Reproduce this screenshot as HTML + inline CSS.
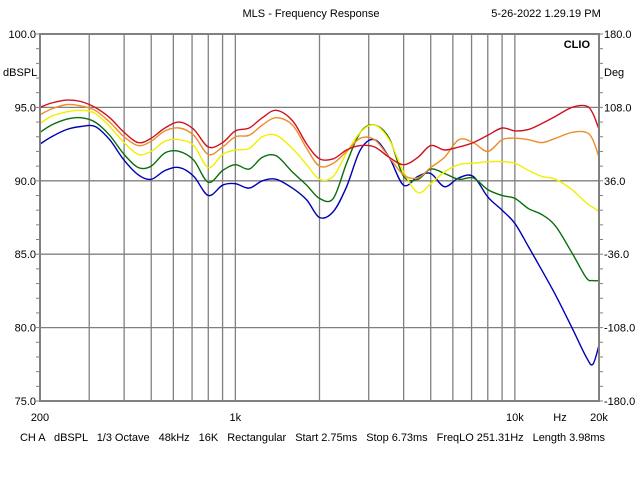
<!DOCTYPE html>
<html><head><meta charset="utf-8">
<style>
html,body{margin:0;padding:0;background:#fff;}
svg{display:block;font-family:"Liberation Sans",Arial,sans-serif;}
</style></head>
<body>
<svg id="chart" width="640" height="480" viewBox="0 0 640 480" xmlns="http://www.w3.org/2000/svg">
<rect x="0" y="0" width="640" height="480" fill="#fff"/>
<text x="311" y="17" font-size="11" text-anchor="middle" fill="#000">MLS - Frequency Response</text>
<text x="546" y="17" font-size="11" text-anchor="middle" fill="#000">5-26-2022 1.29.19 PM</text>
<g id="grid"></g>
<g id="axes"></g>
<g id="series"></g>
<rect x="40" y="34" width="559" height="367" fill="none" stroke="#808080" stroke-width="2"/>
<text x="590" y="48" font-size="11" font-weight="bold" text-anchor="end" fill="#000">CLIO</text>
<text x="3" y="76" font-size="11" fill="#000">dBSPL</text>
<text x="604" y="76" font-size="11" fill="#000">Deg</text>
<text x="560" y="421" font-size="11" text-anchor="middle" fill="#000">Hz</text>
<text x="20" y="441" font-size="11" fill="#000" textLength="585" lengthAdjust="spacing" xml:space="preserve">CH A   dBSPL   1/3 Octave   48kHz   16K   Rectangular   Start 2.75ms   Stop 6.73ms   FreqLO 251.31Hz   Length 3.98ms</text>
</svg>
<script>
const freqs = [200,220,250,280,315,355,400,450,500,560,630,710,800,900,1000,1120,1250,1400,1600,1800,2000,2240,2500,2800,3150,3550,4000,4500,5000,5600,6300,7100,8000,9000,10000,11200,12500,14000,16000,18000,19000,20000];
const redDb =    [95.0,95.3,95.5,95.4,95.0,94.3,93.3,92.6,92.9,93.6,94.0,93.5,92.3,92.6,93.4,93.6,94.3,94.8,94.1,92.5,91.5,91.5,92.1,92.4,92.3,91.6,91.1,91.6,92.4,92.1,92.3,92.6,93.1,93.6,93.4,93.5,93.9,94.4,95.0,95.1,94.6,93.5];
const orangeDb = [94.5,94.9,95.2,95.1,94.8,94.0,93.0,92.4,92.7,93.4,93.6,93.1,91.8,92.3,93.0,93.1,93.8,94.3,93.8,92.2,91.0,91.2,92.0,92.9,92.8,91.6,90.4,90.2,90.9,91.6,92.8,92.6,92.0,92.8,92.9,92.8,92.6,92.9,93.3,93.3,92.8,91.6];
const yellowDb = [93.9,94.4,94.7,94.8,94.6,93.7,92.6,91.8,92.0,92.7,92.8,92.4,90.9,91.8,92.1,92.2,93.0,93.1,92.2,91.1,90.1,90.3,91.9,93.3,93.8,92.8,90.6,89.2,89.8,90.6,91.1,91.2,91.3,91.3,91.2,90.7,90.3,90.1,89.4,88.5,88.2,87.9];
const greenDb =  [93.3,93.8,94.2,94.3,94.0,93.1,91.8,90.9,91.0,91.9,92.0,91.4,89.9,90.7,91.1,90.8,91.6,91.7,90.6,89.7,88.8,88.8,91.2,93.3,93.8,92.9,90.3,90.1,90.8,90.5,90.1,90.2,89.4,89.0,88.8,88.1,87.7,86.9,85.1,83.4,83.2,83.2];
const blueDb =   [92.5,93.0,93.5,93.7,93.7,92.8,91.4,90.4,90.1,90.7,90.9,90.3,89.0,89.7,89.8,89.5,90.0,90.1,89.5,88.7,87.5,87.9,89.6,92.1,92.8,91.6,89.7,90.3,90.5,89.6,90.2,90.3,88.9,88.0,87.1,85.5,83.9,82.2,80.0,78.0,77.5,78.8];
const leftTicks = ["100.0","95.0","90.0","85.0","80.0","75.0"];
const leftTickValues = [100,95,90,85,80,75];
const rightTicks = ["180.0","108.0","36.0","-36.0","-108.0","-180.0"];
const xLabelFreqs = [200,1000,10000,20000];
const xLabels = ["200","1k","10k","20k"];
const gridFreqs = [300,400,500,600,700,800,900,1000,2000,3000,4000,5000,6000,7000,8000,9000,10000];

const NS = "http://www.w3.org/2000/svg";
const L=40, R=599, T=34, B=401;
function xScale(f){ return L + (Math.log10(f/200)/2)*(R-L); }
function yScale(db){ return T + (100-db)/25*(B-T); }
function mk(tag, attrs, parent){ const e=document.createElementNS(NS,tag); for(const k in attrs) e.setAttribute(k,attrs[k]); parent.appendChild(e); return e; }

const grid=document.getElementById('grid');
gridFreqs.forEach(f=>{
  const x=xScale(f);
  const ln=mk('line',{x1:x,x2:x,y1:T,y2:B,stroke:'#808080','stroke-width':1.3},grid);
  
  
});
[95,90,85,80].forEach(v=>{
  const y=yScale(v);
  const ln=mk('line',{x1:L,x2:R,y1:y,y2:y,stroke:'#808080','stroke-width':1.3},grid);
  
  
});

const axes=document.getElementById('axes');
for(let v=75; v<=100; v++){
  const y=yScale(v);
  mk('line',{x1:L-4,x2:L,y1:y,y2:y,stroke:'#808080','stroke-width':1},axes);
  mk('line',{x1:R,x2:R+4,y1:y,y2:y,stroke:'#808080','stroke-width':1},axes);
}
leftTickValues.forEach((v,i)=>{
  const t=mk('text',{x:36,y:yScale(v)+4,'font-size':11,'text-anchor':'end',fill:'#000'},axes);
  t.textContent=leftTicks[i];
  
  
  const t2=mk('text',{x:604,y:yScale(v)+4,'font-size':11,fill:'#000'},axes);
  t2.textContent=rightTicks[i];
  
  
});
xLabelFreqs.forEach((f,i)=>{
  const t=mk('text',{x:xScale(f),y:421,'font-size':11,'text-anchor':'middle',fill:'#000'},axes);
  t.textContent=xLabels[i];
  
  
});

function pathFor(vals){
  const p=freqs.map((f,i)=>[xScale(f),yScale(vals[i])]);
  let d='M'+p[0][0].toFixed(1)+','+p[0][1].toFixed(1);
  for(let i=0;i<p.length-1;i++){
    const p0=p[i-1]||p[i], p1=p[i], p2=p[i+1], p3=p[i+2]||p2;
    const c1x=p1[0]+(p2[0]-p0[0])/6, c1y=p1[1]+(p2[1]-p0[1])/6;
    const c2x=p2[0]-(p3[0]-p1[0])/6, c2y=p2[1]-(p3[1]-p1[1])/6;
    d+=' C'+c1x.toFixed(1)+','+c1y.toFixed(1)+' '+c2x.toFixed(1)+','+c2y.toFixed(1)+' '+p2[0].toFixed(1)+','+p2[1].toFixed(1);
  }
  return d;
}
const seriesG=document.getElementById('series');
const clip=mk('clipPath',{id:'pc'},seriesG);
mk('rect',{x:L,y:T,width:R-L,height:B-T},clip);
const series=[
  ['blue-curve',blueDb,'#0000b4'],
  ['green-curve',greenDb,'#0a6e0a'],
  ['yellow-curve',yellowDb,'#f0f000'],
  ['orange-curve',orangeDb,'#f08c28'],
  ['red-curve',redDb,'#d01020']
];
series.forEach(s=>{
  const p=mk('path',{d:pathFor(s[1]),fill:'none',stroke:s[2],'stroke-width':1.4,'clip-path':'url(#pc)'},seriesG);
  
  
});
</script>
</body></html>
